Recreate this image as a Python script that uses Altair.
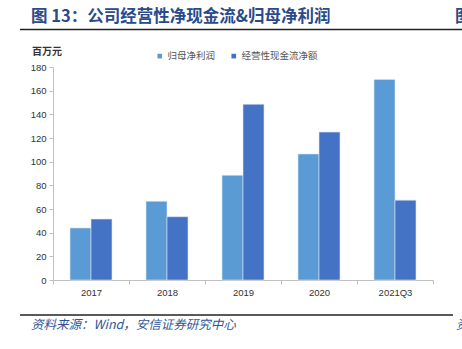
import altair as alt
import pandas as pd

categories = ["2017", "2018", "2019", "2020", "2021Q3"]
net_profit = [44, 66.5, 88.5, 106.5, 169.5]
op_cash_flow = [51.5, 53.5, 148.5, 125, 67.5]
series_names = ["归母净利润", "经营性现金流净额"]
y_ticks = [0, 20, 40, 60, 80, 100, 120, 140, 160, 180]

rows = []
for c, a, b in zip(categories, net_profit, op_cash_flow):
    rows.append({"cat": c, "series": series_names[0], "value": a})
    rows.append({"cat": c, "series": series_names[1], "value": b})
df = pd.DataFrame(rows)

CJK = "Noto Sans CJK SC"
LAT = "Liberation Sans"

bars = alt.Chart(df).mark_bar(stroke="#dbe5f1", strokeWidth=0.6).encode(
    x=alt.X("cat:N", sort=categories, title=None,
            scale=alt.Scale(paddingInner=0, paddingOuter=0),
            axis=alt.Axis(labelAngle=0, tickBand="extent", domainColor="#c0c0c0",
                          tickColor="#c0c0c0", tickSize=4, labelFont=LAT,
                          labelFontSize=9.5, labelColor="#333333", labelPadding=3,
                          grid=False)),
    xOffset=alt.XOffset("series:N", sort=series_names,
                        scale=alt.Scale(paddingInner=0, paddingOuter=0.81)),
    y=alt.Y("value:Q", title=None,
            scale=alt.Scale(domain=[0, 180], nice=False),
            axis=alt.Axis(values=y_ticks, grid=False, domainColor="#c0c0c0",
                          tickColor="#c0c0c0", tickSize=4, labelFont=LAT,
                          labelFontSize=9.5, labelColor="#333333", labelPadding=3)),
    color=alt.Color("series:N", sort=series_names,
                    scale=alt.Scale(domain=series_names, range=["#5B9BD5", "#4472C4"]),
                    legend=alt.Legend(title=None, orient="none", direction="horizontal",
                                      legendX=102, legendY=-16, symbolType="square",
                                      symbolSize=22, symbolStrokeWidth=0,
                                      labelFont=CJK, labelFontSize=9.5, labelColor="#555555",
                                      columnPadding=13, labelOffset=3, padding=0)),
)

one = pd.DataFrame({"k": [0]})

def txt(text, x, y, size, color, weight="normal", style="normal", font=CJK):
    return alt.Chart(one).mark_text(
        text=text, align="left", baseline="alphabetic", fontSize=size, color=color,
        fontWeight=weight, fontStyle=style, font=font
    ).encode(x=alt.value(x), y=alt.value(y))

title = txt("图 13：公司经营性净现金流&归母净利润", -22, -45, 16.5, "#2A4A8A", weight="bold")
title_r = txt("图", 402, -45, 16.5, "#2A4A8A", weight="bold")
unit = txt("百万元", -21, -12, 10, "#333333", weight="bold")
source = txt("资料来源：Wind，安信证券研究中心", -22, 262, 12.5, "#2F5597", style="italic")
source_r = txt("资", 403, 262, 12.5, "#2F5597", style="italic")

line1 = alt.Chart(one).mark_rule(color="#222222", strokeWidth=1.5).encode(
    x=alt.value(-33), x2=alt.value(410), y=alt.value(-37.5))
line2 = alt.Chart(one).mark_rule(color="#222222", strokeWidth=1.5).encode(
    x=alt.value(-33), x2=alt.value(400), y=alt.value(248))

chart = alt.layer(bars, line1, line2, title, title_r, unit, source, source_r).properties(
    width=380, height=213,
    background="white",
    autosize=alt.AutoSizeParams(type="none"),
    padding={"left": 53, "top": 67, "right": 29, "bottom": 69},
).configure_view(strokeWidth=0, stroke="transparent")

chart.save("out.html", embed_options={"renderer": "svg", "actions": False})
